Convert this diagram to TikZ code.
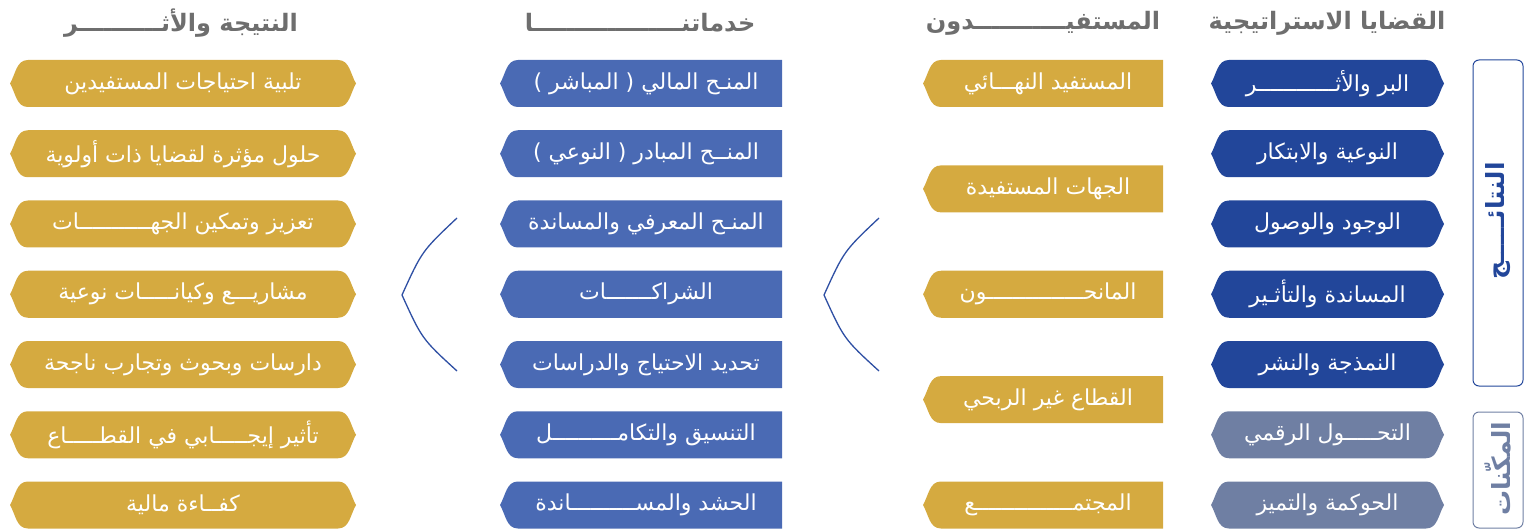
\documentclass[tikz,border=0pt]{standalone}
\usepackage{fontspec}
\newfontfamily\ar[Script=Arabic]{DejaVu Sans}
\TeXXeTstate=1
\definecolor{dblue}{HTML}{22469A}
\definecolor{sblue}{HTML}{4A6AB4}
\definecolor{gblue}{HTML}{6F7FA3}
\definecolor{gold}{HTML}{D5AA40}
\definecolor{hgrey}{HTML}{6E6E6E}
\definecolor{brk}{HTML}{2E4FA3}
\def\tw{18}
\def\hh{23.5}
\newcommand\bothbox[6]{%
  \fill[#5] (#2,-#4) to[out=60,in=180] (#2+\tw,-#4+\hh) -- (#3-\tw,-#4+\hh) to[out=0,in=120] (#3,-#4)
     to[out=-120,in=0] (#3-\tw,-#4-\hh) -- (#2+\tw,-#4-\hh) to[out=180,in=-60] cycle;
  \node[boxtext] (#1) at ({(#2+#3)/2},-#4) {#6};}
\newcommand\leftbox[6]{%
  \fill[#5] (#2,-#4) to[out=60,in=180] (#2+\tw,-#4+\hh) -- (#3,-#4+\hh) -- (#3,-#4-\hh)
     -- (#2+\tw,-#4-\hh) to[out=180,in=-60] cycle;
  \node[boxtext] (#1) at ({(#2+#3)/2+5},-#4) {#6};}
\tikzset{
  boxtext/.style={text=white, inner sep=0pt, font=\ar\fontsize{22}{26}\selectfont},
  headtext/.style={text=hgrey, inner sep=0pt, font=\ar\bfseries\fontsize{24}{28}\selectfont},
  sidebox/.style={rounded corners=6pt, line width=1pt},
  sidetext/.style={rotate=90, inner sep=0pt, font=\ar\bfseries\fontsize{25}{30}\selectfont},
  bracket/.style={draw=brk, line width=1.3pt}
}
\begin{document}
\begin{tikzpicture}[x=1pt,y=1pt]
\useasboundingbox (0,0) rectangle (1525,-529);
% headers
\node[headtext] (h1) at (1327,-23) {\beginR القضايا الاستراتيجية\endR};
\node[headtext] (h2) at (1043,-23) {\beginR المستفيـــــــــــدون\endR};
\node[headtext] (h3) at (640,-23) {\beginR خدماتنــــــــــــــــــا\endR};
\node[headtext] (h4) at (181,-23) {\beginR النتيجة والأثــــــــــر\endR};
% strategic issues
\bothbox{r1}{1211}{1444}{83.5}{dblue}{\beginR البر والأثــــــــــــر\endR}
\bothbox{r2}{1211}{1444}{153.75}{dblue}{\beginR النوعية والابتكار\endR}
\bothbox{r3}{1211}{1444}{224}{dblue}{\beginR الوجود والوصول\endR}
\bothbox{r4}{1211}{1444}{294.25}{dblue}{\beginR المساندة والتأثـير\endR}
\bothbox{r5}{1211}{1444}{364.5}{dblue}{\beginR النمذجة والنشر\endR}
\bothbox{r6}{1211}{1444}{434.75}{gblue}{\beginR التحـــــول الرقمي\endR}
\bothbox{r7}{1211}{1444}{505}{gblue}{\beginR الحوكمة والتميز\endR}
% beneficiaries
\leftbox{b1}{923}{1163}{83.5}{gold}{\beginR المستفيد النهـــائي\endR}
\leftbox{b2}{923}{1163}{188.9}{gold}{\beginR الجهات المستفيدة\endR}
\leftbox{b3}{923}{1163}{294.25}{gold}{\beginR المانحـــــــــــــــون\endR}
\leftbox{b4}{923}{1163}{399.6}{gold}{\beginR القطاع غير الربحي\endR}
\leftbox{b5}{923}{1163}{505}{gold}{\beginR المجتمـــــــــــــــع\endR}
% services
\leftbox{s1}{500}{782}{83.5}{sblue}{\beginR المنـح المالي ( المباشر )\endR}
\leftbox{s2}{500}{782}{153.75}{sblue}{\beginR المنــح المبادر ( النوعي )\endR}
\leftbox{s3}{500}{782}{224}{sblue}{\beginR المنـح المعرفي والمساندة\endR}
\leftbox{s4}{500}{782}{294.25}{sblue}{\beginR الشراكـــــــات\endR}
\leftbox{s5}{500}{782}{364.5}{sblue}{\beginR تحديد الاحتياج والدراسات\endR}
\leftbox{s6}{500}{782}{434.75}{sblue}{\beginR التنسيق والتكامــــــــــل\endR}
\leftbox{s7}{500}{782}{505}{sblue}{\beginR الحشد والمســــــــــاندة\endR}
% results
\bothbox{o1}{10}{356}{83.5}{gold}{\beginR تلبية احتياجات المستفيدين\endR}
\bothbox{o2}{10}{356}{153.75}{gold}{\beginR حلول مؤثرة لقضايا ذات أولوية\endR}
\bothbox{o3}{10}{356}{224}{gold}{\beginR تعزيز وتمكين الجهـــــــــــات\endR}
\bothbox{o4}{10}{356}{294.25}{gold}{\beginR مشاريـــع وكيانـــــات نوعية\endR}
\bothbox{o5}{10}{356}{364.5}{gold}{\beginR دارسات وبحوث وتجارب ناجحة\endR}
\bothbox{o6}{10}{356}{434.75}{gold}{\beginR تأثير إيجـــــابي في القطـــــاع\endR}
\bothbox{o7}{10}{356}{505}{gold}{\beginR كفــاءة مالية\endR}
% side boxes
\draw[sidebox, draw=dblue] (1473,-60) rectangle (1523,-386);
\node[sidetext, text=dblue] (v1) at (1498,-221) {\beginR النتائـــــج\endR};
\draw[sidebox, draw=gblue] (1473,-412) rectangle (1523,-528);
\node[sidetext, text=gblue] (v2) at (1498,-469) {\beginR المكّنات\endR};
% brackets
\coordinate (ka) at (879,-218); \coordinate (kb) at (824,-295); \coordinate (kc) at (879,-371);
\draw[bracket] (ka) .. controls (844,-251) .. (kb) .. controls (844,-339) .. (kc);
\coordinate (la) at (457,-218); \coordinate (lb) at (402,-295); \coordinate (lc) at (457,-371);
\draw[bracket] (la) .. controls (422,-251) .. (lb) .. controls (422,-339) .. (lc);
\end{tikzpicture}
\end{document}
